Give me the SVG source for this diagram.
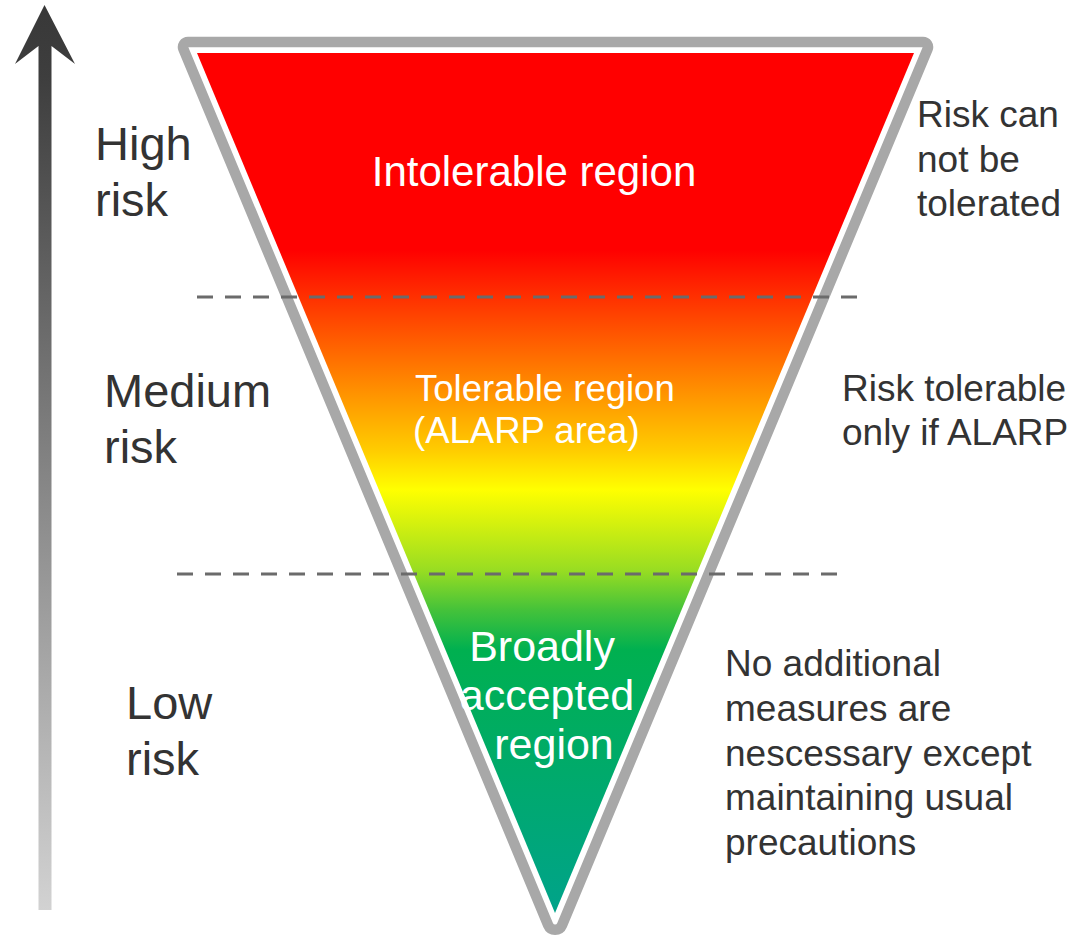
<svg xmlns="http://www.w3.org/2000/svg" width="1080" height="937" viewBox="0 0 1080 937">
  <defs>
    <linearGradient id="riskFill" gradientUnits="userSpaceOnUse" x1="0" y1="53" x2="0" y2="913">
      <stop offset="0" stop-color="#ff0000"/>
      <stop offset="0.229" stop-color="#ff0000"/>
      <stop offset="0.287" stop-color="#ff3300"/>
      <stop offset="0.345" stop-color="#ff6600"/>
      <stop offset="0.403" stop-color="#ff9900"/>
      <stop offset="0.462" stop-color="#ffcc00"/>
      <stop offset="0.508" stop-color="#ffff00"/>
      <stop offset="0.601" stop-color="#99dd22"/>
      <stop offset="0.648" stop-color="#44c23a"/>
      <stop offset="0.694" stop-color="#00b050"/>
      <stop offset="1" stop-color="#00a38a"/>
    </linearGradient>
    <linearGradient id="axisFill" gradientUnits="userSpaceOnUse" x1="0" y1="5" x2="0" y2="910">
      <stop offset="0" stop-color="#383838"/>
      <stop offset="0.08" stop-color="#3e3e3e"/>
      <stop offset="1" stop-color="#d2d2d2"/>
    </linearGradient>
    <style>
      .label { font-family: "Liberation Sans", Arial, sans-serif; fill: #333333; }
      .side { font-size: 47px; }
      .note { font-size: 37px; }
      .inner { font-family: "Liberation Sans", Arial, sans-serif; fill: #ffffff; }
      .divider { stroke: #6b6b6b; stroke-width: 3; stroke-dasharray: 16 12; fill: none; }
    </style>
  </defs>

  <!-- vertical risk axis -->
  <g id="risk-axis">
    <path d="M44.5,5 L75,64 L51.5,46 L51.5,910 L38.5,910 L38.5,46 L15,64 Z" fill="url(#axisFill)"/>
  </g>

  <!-- inverted triangle: outline and graded fill -->
  <g id="triangle">
    <path d="M188,42 L923,42 A5 5 0 0 1 927.6,48.9 L562,925.2 A7.5 7.5 0 0 1 548.2,925.2 L183.4,48.9 A5 5 0 0 1 188,42 Z"
          fill="none" stroke="#a8a8a8" stroke-width="10.5" stroke-linejoin="round"/>
    <polygon points="197,53 914,53 555,913" fill="url(#riskFill)"/>
  </g>

  <!-- region boundaries -->
  <g id="dividers">
    <line class="divider" x1="197" y1="297" x2="858" y2="297"/>
    <line class="divider" x1="177" y1="574" x2="838" y2="574"/>
  </g>

  <!-- region names inside the triangle -->
  <g id="intolerable-region">
    <text class="inner" x="534" y="186" font-size="42" text-anchor="middle">Intolerable region</text>
  </g>
  <g id="tolerable-region">
    <text class="inner" x="415" y="401" font-size="36.5">Tolerable region</text>
    <text class="inner" x="413" y="443" font-size="36.5">(ALARP area)</text>
  </g>
  <g id="accepted-region">
    <text class="inner" font-size="43" text-anchor="middle">
      <tspan x="548" y="661">Broadly</tspan>
      <tspan x="553" y="710">accepted</tspan>
      <tspan x="554" y="759">region</tspan>
    </text>
  </g>

  <!-- risk levels on the left -->
  <g id="high-risk">
    <text class="label side" x="95" y="160">High</text>
    <text class="label side" x="95" y="216">risk</text>
  </g>
  <g id="medium-risk">
    <text class="label side" x="104" y="407">Medium</text>
    <text class="label side" x="104" y="463">risk</text>
  </g>
  <g id="low-risk">
    <text class="label side" x="126" y="719">Low</text>
    <text class="label side" x="126" y="775">risk</text>
  </g>

  <!-- explanations on the right -->
  <g id="high-note">
    <text class="label note">
      <tspan x="917" y="127">Risk can</tspan>
      <tspan x="917" y="172">not be</tspan>
      <tspan x="917" y="216">tolerated</tspan>
    </text>
  </g>
  <g id="medium-note">
    <text class="label note">
      <tspan x="842" y="401">Risk tolerable</tspan>
      <tspan x="842" y="445">only if ALARP</tspan>
    </text>
  </g>
  <g id="low-note">
    <text class="label note">
      <tspan x="725" y="676">No additional</tspan>
      <tspan x="725" y="721">measures are</tspan>
      <tspan x="725" y="766">nescessary except</tspan>
      <tspan x="725" y="810">maintaining usual</tspan>
      <tspan x="725" y="855">precautions</tspan>
    </text>
  </g>
</svg>
